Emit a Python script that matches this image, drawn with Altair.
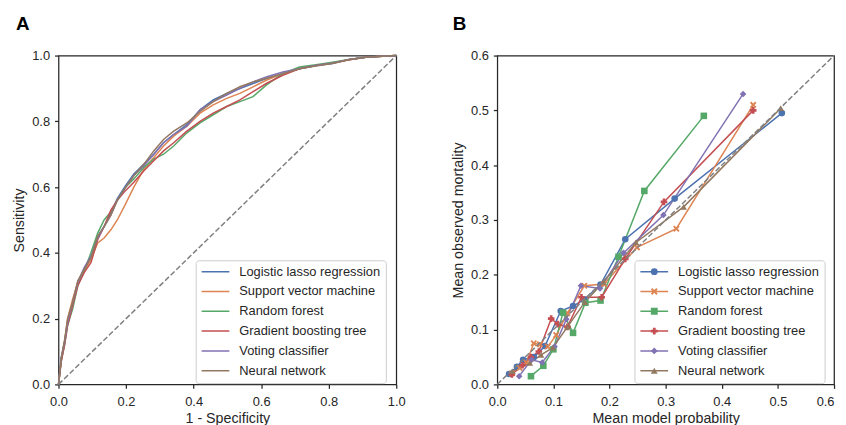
import altair as alt
import pandas as pd

models = ["Logistic lasso regression", "Support vector machine", "Random forest",
          "Gradient boosting tree", "Voting classifier", "Neural network"]
palette = ["#4C72B0", "#DD8452", "#55A868", "#C44E52", "#8172B3", "#937860"]
X_PATH = "M-1,-0.6L-0.6,-1L0,-0.4L0.6,-1L1,-0.6L0.4,0L1,0.6L0.6,1L0,0.4L-0.6,1L-1,0.6L-0.4,0Z"
marker_shapes = ["circle", X_PATH, "square", "cross", "diamond", "triangle-up"]

axis_ticks_a = [0.0, 0.2, 0.4, 0.6, 0.8, 1.0]
axis_ticks_b = [0.0, 0.1, 0.2, 0.3, 0.4, 0.5, 0.6]
diag_a = [0.0, 1.0]
diag_b = [0.0, 0.6]

# ---- Panel A: ROC curves ----
roc_fpr = [0, 0.008, 0.018, 0.027, 0.042, 0.057, 0.076, 0.096, 0.116, 0.135, 0.155,
           0.174, 0.199, 0.223, 0.253, 0.282, 0.311, 0.341, 0.38, 0.419, 0.458, 0.498,
           0.537, 0.576, 0.615, 0.664, 0.713, 0.762, 0.811, 0.86, 0.909, 0.958, 1.0]
tpr_lr = [0, 0.08, 0.13, 0.19, 0.25, 0.31, 0.35, 0.385, 0.45, 0.48, 0.52, 0.565, 0.605,
          0.64, 0.67, 0.70, 0.735, 0.76, 0.79, 0.835, 0.865, 0.885, 0.90, 0.915, 0.93,
          0.945, 0.96, 0.97, 0.976, 0.988, 0.995, 0.998, 1.0]
tpr_svm = [0, 0.07, 0.13, 0.20, 0.26, 0.31, 0.345, 0.38, 0.43, 0.445, 0.47, 0.50, 0.55,
           0.60, 0.655, 0.69, 0.725, 0.755, 0.785, 0.825, 0.85, 0.87, 0.885, 0.905, 0.925,
           0.945, 0.96, 0.97, 0.978, 0.987, 0.995, 0.998, 1.0]
tpr_rf = [0, 0.07, 0.12, 0.18, 0.23, 0.30, 0.345, 0.40, 0.46, 0.50, 0.525, 0.56, 0.60,
          0.625, 0.66, 0.685, 0.70, 0.725, 0.765, 0.795, 0.82, 0.845, 0.86, 0.875, 0.91,
          0.945, 0.965, 0.972, 0.98, 0.988, 0.995, 0.998, 1.0]
tpr_gbt = [0, 0.07, 0.12, 0.18, 0.24, 0.30, 0.34, 0.37, 0.44, 0.48, 0.53, 0.56, 0.59,
           0.615, 0.65, 0.68, 0.71, 0.735, 0.77, 0.80, 0.825, 0.845, 0.865, 0.89, 0.915,
           0.94, 0.96, 0.97, 0.977, 0.987, 0.995, 0.998, 1.0]
tpr_vc = [0, 0.08, 0.13, 0.19, 0.25, 0.31, 0.355, 0.39, 0.445, 0.48, 0.515, 0.56, 0.60,
          0.635, 0.665, 0.70, 0.735, 0.76, 0.785, 0.835, 0.86, 0.88, 0.90, 0.92, 0.935,
          0.95, 0.96, 0.97, 0.977, 0.988, 0.995, 0.998, 1.0]
tpr_nn = [0, 0.08, 0.135, 0.20, 0.25, 0.315, 0.35, 0.385, 0.45, 0.48, 0.515, 0.56, 0.60,
          0.635, 0.67, 0.71, 0.745, 0.77, 0.795, 0.83, 0.86, 0.885, 0.905, 0.92, 0.93,
          0.945, 0.96, 0.968, 0.976, 0.987, 0.995, 0.998, 1.0]
roc_tpr = [tpr_lr, tpr_svm, tpr_rf, tpr_gbt, tpr_vc, tpr_nn]

# ---- Panel B: calibration curves ----
cal_lr_x = [0.021, 0.035, 0.046, 0.065, 0.085, 0.113, 0.135, 0.155, 0.184, 0.228, 0.316, 0.507]
cal_lr_y = [0.019, 0.032, 0.045, 0.05, 0.07, 0.134, 0.143, 0.155, 0.182, 0.265, 0.339, 0.495]
cal_svm_x = [0.026, 0.04, 0.052, 0.065, 0.076, 0.09, 0.105, 0.125, 0.155, 0.19, 0.249, 0.319, 0.456]
cal_svm_y = [0.02, 0.03, 0.04, 0.075, 0.073, 0.069, 0.09, 0.13, 0.18, 0.183, 0.25, 0.284, 0.51]
cal_rf_x = [0.06, 0.082, 0.1, 0.117, 0.135, 0.157, 0.184, 0.216, 0.262, 0.368]
cal_rf_y = [0.015, 0.034, 0.064, 0.131, 0.094, 0.149, 0.153, 0.233, 0.353, 0.49]
cal_gbt_x = [0.026, 0.045, 0.06, 0.074, 0.096, 0.108, 0.125, 0.15, 0.186, 0.228, 0.297, 0.456]
cal_gbt_y = [0.018, 0.035, 0.05, 0.06, 0.12, 0.11, 0.105, 0.159, 0.159, 0.229, 0.333, 0.5]
cal_vc_x = [0.039, 0.061, 0.08, 0.102, 0.123, 0.149, 0.183, 0.225, 0.296, 0.438]
cal_vc_y = [0.015, 0.045, 0.04, 0.069, 0.119, 0.18, 0.175, 0.24, 0.309, 0.53]
cal_nn_x = [0.027, 0.058, 0.078, 0.099, 0.125, 0.156, 0.189, 0.247, 0.332, 0.505]
cal_nn_y = [0.024, 0.039, 0.054, 0.067, 0.105, 0.15, 0.187, 0.259, 0.324, 0.504]
cal_x = [cal_lr_x, cal_svm_x, cal_rf_x, cal_gbt_x, cal_vc_x, cal_nn_x]
cal_y = [cal_lr_y, cal_svm_y, cal_rf_y, cal_gbt_y, cal_vc_y, cal_nn_y]

roc_df = pd.DataFrame([
    {"model": m, "fpr": a, "tpr": b, "idx": i}
    for m, t in zip(models, roc_tpr) for i, (a, b) in enumerate(zip(roc_fpr, t))
])
cal_df = pd.DataFrame([
    {"model": m, "prob": a, "obs": b, "idx": i}
    for m, xs, ys in zip(models, cal_x, cal_y) for i, (a, b) in enumerate(zip(xs, ys))
])
diag_a_df = pd.DataFrame({"fpr": diag_a, "tpr": diag_a})
diag_b_df = pd.DataFrame({"prob": diag_b, "obs": diag_b})

FONT = "Liberation Sans"
TXT = "#262626"
W_A, W_B, H = 341, 340, 332
LEG_X, LEG_Y = 138.5, 206.7

legend_box = dict(orient="none", title=None, padding=5, cornerRadius=3,
                  fillColor="white", strokeColor="#cccccc",
                  labelFontSize=13, labelFont=FONT, labelColor=TXT, labelLimit=400,
                  rowPadding=6, clipHeight=13, symbolType="stroke", symbolSize=784,
                  symbolStrokeWidth=1.5, labelOffset=9, legendX=LEG_X, legendY=LEG_Y)

# Panel A
xa = alt.X("fpr:Q", scale=alt.Scale(domain=[0, 1], nice=False),
           axis=alt.Axis(values=axis_ticks_a, format=".1f", title="1 - Specificity"))
ya = alt.Y("tpr:Q", scale=alt.Scale(domain=[0, 1], nice=False),
           axis=alt.Axis(values=axis_ticks_a, format=".1f", title="Sensitivity"))
lines_a = alt.Chart(roc_df).mark_line(strokeWidth=1.5).encode(
    x=xa, y=ya,
    color=alt.Color("model:N", scale=alt.Scale(domain=models, range=palette),
                    legend=alt.Legend(**legend_box)),
    order="idx:Q",
)
dash_a = alt.Chart(diag_a_df).mark_line(color="#808080", strokeWidth=1.5,
                                        strokeDash=[5.5, 2.4]).encode(x=xa, y=ya)
panel_a = alt.layer(lines_a, dash_a).properties(
    width=W_A, height=H,
    title=alt.TitleParams("A", anchor="start", frame="group", dx=-43, offset=16),
)

# Panel B
xb = alt.X("prob:Q", scale=alt.Scale(domain=[0, 0.6], nice=False),
           axis=alt.Axis(values=axis_ticks_b, format=".1f", title="Mean model probability",
                         labelAlign={"condition": {"test": "datum.value > 0.55", "value": "right"},
                                     "value": "center"}))
yb = alt.Y("obs:Q", scale=alt.Scale(domain=[0, 0.6], nice=False),
           axis=alt.Axis(values=axis_ticks_b, format=".1f", title="Mean observed mortality"))
lines_b = alt.Chart(cal_df).mark_line(strokeWidth=1.5).encode(
    x=xb, y=yb,
    color=alt.Color("model:N", scale=alt.Scale(domain=models, range=palette),
                    legend=alt.Legend(**legend_box)),
    order="idx:Q",
)
marker_legend = alt.Legend(orient="none", title=None, padding=5, labelFontSize=13,
                           labelFont=FONT, labelExpr="''", labelLimit=400, rowPadding=6,
                           clipHeight=13, symbolSize=48, symbolStrokeWidth=0,
                           symbolOffset=8.5, labelOffset=9, legendX=LEG_X, legendY=LEG_Y,
                           zindex=2)
points_b = alt.Chart(cal_df).mark_point(filled=True, opacity=1, size=44, strokeWidth=0).encode(
    x=xb, y=yb,
    color=alt.Color("model:N", scale=alt.Scale(domain=models, range=palette),
                    legend=marker_legend),
    shape=alt.Shape("model:N", scale=alt.Scale(domain=models, range=marker_shapes),
                    legend=marker_legend),
)
dash_b = alt.Chart(diag_b_df).mark_line(color="#808080", strokeWidth=1.5,
                                        strokeDash=[5.5, 2.4]).encode(x=xb, y=yb)
panel_b = alt.layer(lines_b, points_b, dash_b).resolve_scale(
    color="independent", shape="independent"
).resolve_legend(color="independent", shape="independent").properties(
    width=W_B, height=H,
    title=alt.TitleParams("B", anchor="start", frame="group", dx=-45, offset=16),
)

chart = alt.hconcat(panel_a, panel_b, spacing=44).resolve_scale(
    color="independent", shape="independent",
).resolve_legend(
    color="independent", shape="independent",
).configure(
    padding={"left": 3, "top": 4, "right": 0, "bottom": 0}, font=FONT,
).configure_view(stroke=TXT, strokeWidth=1.25).configure_axis(
    grid=False, domain=False, tickColor=TXT, tickWidth=1.25, tickSize=4,
    labelFont=FONT, labelFontSize=13, labelColor=TXT, labelPadding=5, labelFlush=False,
    titleFont=FONT, titleFontSize=14.4, titleColor=TXT, titleFontWeight="normal",
).configure_axisX(titlePadding=3, labelPadding=7).configure_axisY(titlePadding=5).configure_title(
    font=FONT, fontSize=19, fontWeight="bold", color="black",
).configure_legend(strokeWidth=1)

chart.save("out.html", embed_options={"renderer": "svg", "actions": False})
